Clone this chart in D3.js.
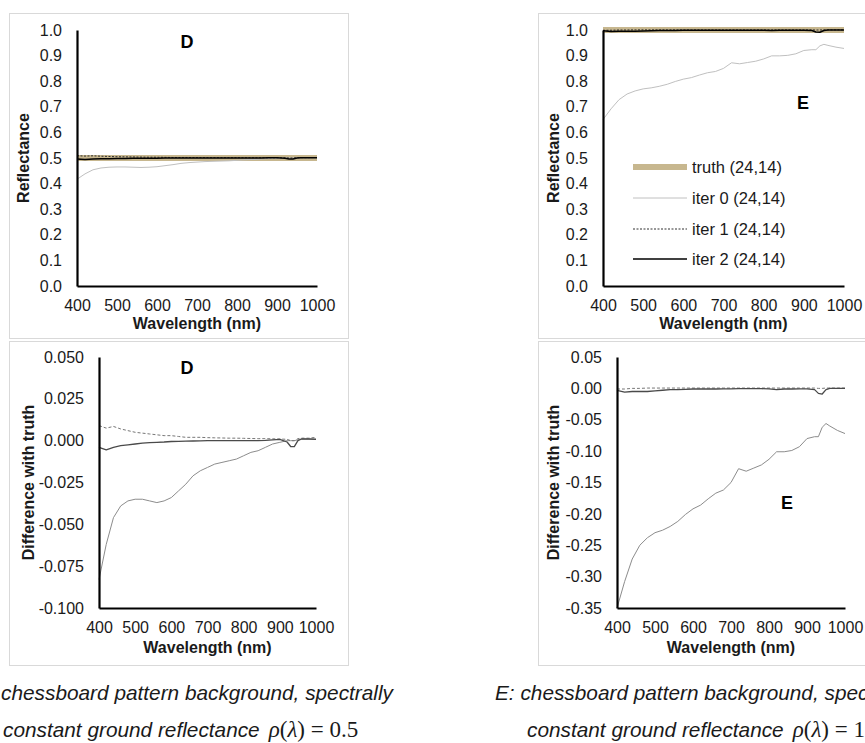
<!DOCTYPE html>
<html>
<head>
<meta charset="utf-8">
<script src="https://cdn.jsdelivr.net/npm/d3@7"></script>
<style>
  body { margin: 0; background: #fff; }
  svg { display: block; }
</style>
</head>
<body>
<svg id="fig" width="865" height="743"></svg>
<script>
// Wavelengths (nm) for all spectra
var wavelength = [400,420,440,460,480,500,520,540,560,580,600,620,640,660,680,700,720,740,760,780,800,820,840,860,880,900,920,930,940,950,960,980,1000];

// truth is flat, so only the two ends
var truthWavelength = [400, 1000];
var truthD = [0.5, 0.5];
var truthE = [1.0, 1.0];

// D : reflectance
var reflD_iter0 = [0.417,0.438,0.454,0.461,0.464,0.465,0.465,0.464,0.463,0.464,0.466,0.470,0.474,0.479,0.482,0.484,0.486,0.487,0.488,0.489,0.491,0.493,0.494,0.496,0.498,0.499,0.500,0.500,0.500,0.5005,0.501,0.501,0.501];
var reflD_iter1 = [0.509,0.5075,0.5085,0.507,0.506,0.505,0.5045,0.504,0.5035,0.503,0.503,0.5025,0.502,0.502,0.502,0.5018,0.5017,0.5016,0.5015,0.5015,0.5014,0.5013,0.5012,0.5012,0.5011,0.501,0.5008,0.500,0.500,0.5012,0.5015,0.5015,0.502];
var reflD_iter2 = [0.496,0.4945,0.496,0.497,0.4975,0.498,0.4985,0.4988,0.499,0.4992,0.4995,0.4996,0.4997,0.4998,0.4999,0.5,0.5,0.5,0.5,0.5,0.5,0.5,0.5,0.5002,0.5005,0.5008,0.4992,0.4965,0.4964,0.5,0.501,0.501,0.5008];

// D : difference with truth
var diffD_iter0 = [-0.083,-0.062,-0.046,-0.039,-0.036,-0.035,-0.035,-0.036,-0.037,-0.036,-0.034,-0.030,-0.026,-0.021,-0.018,-0.016,-0.014,-0.013,-0.012,-0.011,-0.009,-0.007,-0.006,-0.004,-0.002,-0.001,0.000,0.000,0.000,0.0005,0.001,0.001,0.001];
var diffD_iter1 = [0.009,0.0075,0.0085,0.007,0.006,0.005,0.0045,0.004,0.0035,0.003,0.003,0.0025,0.002,0.002,0.002,0.0018,0.0017,0.0016,0.0015,0.0015,0.0014,0.0013,0.0012,0.0012,0.0011,0.001,0.0008,0.0,0.0,0.0012,0.0015,0.0015,0.002];
var diffD_iter2 = [-0.004,-0.0055,-0.004,-0.003,-0.0025,-0.002,-0.0015,-0.0012,-0.001,-0.0008,-0.0005,-0.0004,-0.0003,-0.0002,-0.0001,0.0,0.0,0.0,0.0,0.0,0.0,0.0,0.0,0.0002,0.0005,0.0008,-0.0008,-0.0035,-0.0036,0.0,0.001,0.001,0.0008];

// E : reflectance
var reflE_iter0 = [0.650,0.692,0.728,0.750,0.762,0.770,0.774,0.780,0.788,0.799,0.808,0.814,0.824,0.833,0.838,0.850,0.872,0.868,0.873,0.878,0.887,0.899,0.899,0.901,0.907,0.920,0.923,0.923,0.938,0.944,0.940,0.933,0.928];
var reflE_iter1 = [0.999,0.999,1.0,1.0,1.0005,1.0005,1.0005,1.0005,1.0005,1.0005,1.0005,1.0005,1.0005,1.0005,1.0005,1.0005,1.0005,1.0005,1.0005,1.0005,1.0005,1.0005,1.0005,1.0005,1.0005,1.0005,1.0005,1.0,1.0,1.0005,1.0005,1.0005,1.0005];
var reflE_iter2 = [0.997,0.994,0.995,0.995,0.995,0.996,0.997,0.998,0.998,0.9985,0.999,0.999,0.999,0.999,0.9992,0.9992,0.9995,0.9995,0.9995,0.9995,0.9992,0.998,0.999,0.999,0.9992,0.9992,0.998,0.992,0.991,0.998,1.0,1.0,1.0];

// E : difference with truth
var diffE_iter0 = [-0.350,-0.308,-0.272,-0.250,-0.238,-0.230,-0.226,-0.220,-0.212,-0.201,-0.192,-0.186,-0.176,-0.167,-0.162,-0.150,-0.128,-0.132,-0.127,-0.122,-0.113,-0.101,-0.101,-0.099,-0.093,-0.080,-0.077,-0.077,-0.062,-0.056,-0.060,-0.067,-0.072];
var diffE_iter1 = [-0.001,-0.001,0.0,0.0,0.0005,0.0005,0.0005,0.0005,0.0005,0.0005,0.0005,0.0005,0.0005,0.0005,0.0005,0.0005,0.0005,0.0005,0.0005,0.0005,0.0005,0.0005,0.0005,0.0005,0.0005,0.0005,0.0005,0.0,0.0,0.0005,0.0005,0.0005,0.0005];
var diffE_iter2 = [-0.003,-0.006,-0.005,-0.005,-0.005,-0.004,-0.003,-0.002,-0.002,-0.0015,-0.001,-0.001,-0.001,-0.001,-0.0008,-0.0008,-0.0005,-0.0005,-0.0005,-0.0005,-0.0008,-0.002,-0.001,-0.001,-0.0008,-0.0008,-0.002,-0.008,-0.009,-0.002,0.0,0.0,0.0];

// Ticks
var xTicks = [400, 500, 600, 700, 800, 900, 1000];
var reflTicks = [0, 0.1, 0.2, 0.3, 0.4, 0.5, 0.6, 0.7, 0.8, 0.9, 1.0];
var diffTicksD = [-0.1, -0.075, -0.05, -0.025, 0, 0.025, 0.05];
var diffTicksE = [-0.35, -0.3, -0.25, -0.2, -0.15, -0.1, -0.05, 0, 0.05];

var legendLabels = ["truth (24,14)", "iter 0 (24,14)", "iter 1 (24,14)", "iter 2 (24,14)"];

var FONT = "'Liberation Sans', Arial, sans-serif";

// line styles
var styleTruth = {color: "#c7b78f", width: 6, dash: null};
var styleIter0 = {color: "#c0c0c0", width: 1, dash: null};
var styleIter1 = {color: "#303030", width: 1, dash: "2,1.5"};
var styleIter2 = {color: "#000", width: 1.5, dash: null};
var styleDiff0 = {color: "#8c8c8c", width: 1, dash: null};
var styleDiff1 = {color: "#777", width: 1, dash: "3,2"};
var styleDiff2 = {color: "#4a4a4a", width: 1.3, dash: null};

var svg = d3.select("#fig");

function makePanel(p) {
  var g = svg.append("g");

  // Chart frame
  g.append("rect")
    .attr("x", p.frame[0] + 0.5).attr("y", p.frame[1] + 0.5)
    .attr("width", p.frame[2]).attr("height", p.frame[3])
    .attr("fill", "none").attr("stroke", "#d9d9d9").attr("stroke-width", 1);

  var x = d3.scaleLinear().domain([400, 1000]).range([p.left, p.right]);
  var y = d3.scaleLinear().domain(p.yDomain).range([p.bottom, p.top]);

  var line = d3.line()
    .x(function (d) { return x(d[0]); })
    .y(function (d) { return y(d[1]); });

  // Put the spectra in
  p.series.forEach(function (s) {
    g.append("path")
      .attr("d", line(d3.zip(s.wl, s.values)))
      .attr("fill", "none")
      .attr("stroke", s.style.color)
      .attr("stroke-width", s.style.width)
      .attr("stroke-dasharray", s.style.dash)
      .attr("stroke-linejoin", "round");
  });

  // Axes
  var yAxis = g.append("g")
    .attr("transform", "translate(" + p.left + ",0)")
    .call(d3.axisLeft(y).tickValues(p.yTicks).tickSize(0).tickSizeOuter(0).tickPadding(15)
      .tickFormat(function (d) { return d.toFixed(p.dec); }));
  var xAxis = g.append("g")
    .attr("transform", "translate(0," + p.bottom + ")")
    .call(d3.axisBottom(x).tickValues(xTicks).tickSize(0).tickSizeOuter(0).tickPadding(14)
      .tickFormat(function (d) { return d; }));

  [xAxis, yAxis].forEach(function (a) {
    a.attr("font-family", FONT).attr("font-size", 16);
    a.select(".domain").attr("stroke", "#000").attr("stroke-width", 2.2);
    a.selectAll("text").attr("fill", "#1a1a1a");
  });

  // Axis titles
  g.append("text")
    .attr("x", (p.left + p.right) / 2).attr("y", p.xTitleY)
    .attr("text-anchor", "middle")
    .attr("font-family", FONT).attr("font-size", 16).attr("font-weight", "bold")
    .attr("fill", "#1a1a1a")
    .text("Wavelength (nm)");

  g.append("text")
    .attr("transform", "translate(" + p.yTitleX + "," + (p.top + p.bottom) / 2 + ") rotate(-90)")
    .attr("text-anchor", "middle")
    .attr("dominant-baseline", "central")
    .attr("font-family", FONT).attr("font-size", 16).attr("font-weight", "bold")
    .attr("fill", "#1a1a1a")
    .text(p.yTitle);

  // Panel letter
  g.append("text")
    .attr("x", p.letterPos[0]).attr("y", p.letterPos[1])
    .attr("text-anchor", "middle")
    .attr("dominant-baseline", "central")
    .attr("font-family", FONT).attr("font-size", 18).attr("font-weight", "bold")
    .text(p.letter);

  return g;
}

// D reflectance
makePanel({
  frame: [9, 13, 339, 325],
  left: 77, right: 317, top: 30, bottom: 286,
  yDomain: [0, 1], yTicks: reflTicks, dec: 1,
  xTitleY: 329, yTitleX: 23, yTitle: "Reflectance",
  letter: "D", letterPos: [187, 42],
  series: [
    {wl: truthWavelength, values: truthD, style: styleTruth},
    {wl: wavelength, values: reflD_iter0, style: styleIter0},
    {wl: wavelength, values: reflD_iter1, style: styleIter1},
    {wl: wavelength, values: reflD_iter2, style: styleIter2}
  ]
});

// E reflectance
var panelE = makePanel({
  frame: [538, 13, 340, 325],
  left: 603, right: 844, top: 30, bottom: 286,
  yDomain: [0, 1], yTicks: reflTicks, dec: 1,
  xTitleY: 329, yTitleX: 553, yTitle: "Reflectance",
  letter: "E", letterPos: [803, 103],
  series: [
    {wl: truthWavelength, values: truthE, style: styleTruth},
    {wl: wavelength, values: reflE_iter0, style: styleIter0},
    {wl: wavelength, values: reflE_iter1, style: styleIter1},
    {wl: wavelength, values: reflE_iter2, style: styleIter2}
  ]
});

// Legend (only in panel E)
var legendStyles = [styleTruth, styleIter0, styleIter1, styleIter2];
var legendY = [167, 198, 229, 259];
var leg = panelE.append("g");
legendLabels.forEach(function (lab, i) {
  var s = legendStyles[i];
  leg.append("line")
    .attr("x1", 633).attr("x2", 687)
    .attr("y1", legendY[i]).attr("y2", legendY[i])
    .attr("stroke", s.color).attr("stroke-width", s.width)
    .attr("stroke-dasharray", s.dash);
  leg.append("text")
    .attr("x", 692).attr("y", legendY[i])
    .attr("dominant-baseline", "central")
    .attr("font-family", FONT).attr("font-size", 16.5)
    .attr("fill", "#1a1a1a")
    .text(lab);
});

// D difference
makePanel({
  frame: [9, 341, 339, 324],
  left: 99, right: 316, top: 357, bottom: 608,
  yDomain: [-0.1, 0.05], yTicks: diffTicksD, dec: 3,
  xTitleY: 653, yTitleX: 28, yTitle: "Difference with truth",
  letter: "D", letterPos: [187, 368],
  series: [
    {wl: wavelength, values: diffD_iter0, style: styleDiff0},
    {wl: wavelength, values: diffD_iter1, style: styleDiff1},
    {wl: wavelength, values: diffD_iter2, style: styleDiff2}
  ]
});

// E difference
makePanel({
  frame: [538, 341, 340, 324],
  left: 617, right: 845, top: 357, bottom: 608,
  yDomain: [-0.35, 0.05], yTicks: diffTicksE, dec: 2,
  xTitleY: 653, yTitleX: 553, yTitle: "Difference with truth",
  letter: "E", letterPos: [787, 503],
  series: [
    {wl: wavelength, values: diffE_iter0, style: styleDiff0},
    {wl: wavelength, values: diffE_iter1, style: styleDiff1},
    {wl: wavelength, values: diffE_iter2, style: styleDiff2}
  ]
});

// Captions (cut by the page edge, as in the figure)
function captionLine1(x, anchor, txt) {
  svg.append("text")
    .attr("x", x).attr("y", 700)
    .attr("text-anchor", anchor)
    .attr("font-family", FONT)
    .attr("font-style", "italic")
    .attr("font-size", 20.8)
    .attr("fill", "#1a1a1a")
    .text(txt);
}
function captionLine2(x, value) {
  var t = svg.append("text")
    .attr("x", x).attr("y", 737)
    .attr("font-family", FONT)
    .attr("font-style", "italic")
    .attr("font-size", 20.8)
    .attr("fill", "#1a1a1a");
  t.append("tspan").text("constant ground reflectance");
  // math part in a serif face
  var serif = "'Liberation Serif', 'DejaVu Serif', serif";
  t.append("tspan").attr("dx", 9).attr("font-family", serif).attr("font-size", 23).text("\u03c1");
  t.append("tspan").attr("font-family", serif).attr("font-size", 23).attr("font-style", "normal").text("(");
  t.append("tspan").attr("font-family", serif).attr("font-size", 23).text("\u03bb");
  t.append("tspan").attr("font-family", serif).attr("font-size", 23).attr("font-style", "normal").text(") = " + value);
}

captionLine1(393, "end", "D: chessboard pattern background, spectrally");
captionLine2(3, "0.5");

captionLine1(495, "start", "E: chessboard pattern background, spectrally");
captionLine2(527, "1.0");
</script>
</body>
</html>
